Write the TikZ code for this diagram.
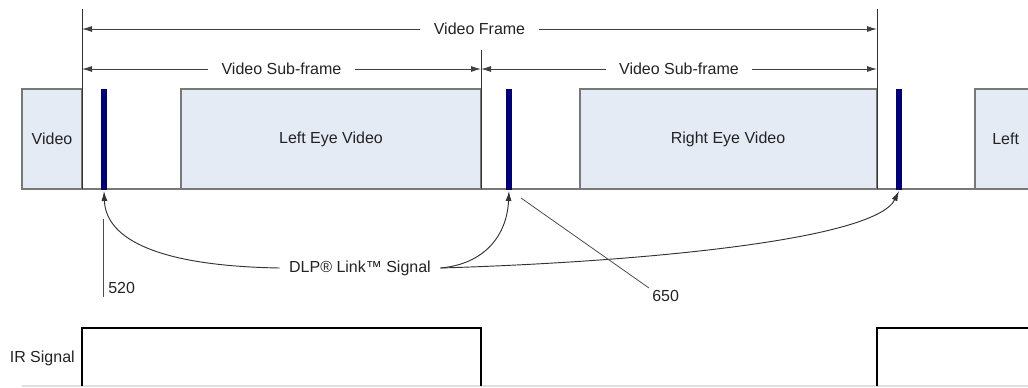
\documentclass[tikz,border=0pt]{standalone}
\usepackage{fontspec}
\setmainfont{Liberation Sans}
\usetikzlibrary{arrows.meta}
\definecolor{boxfill}{RGB}{228,235,245}
\definecolor{boxline}{RGB}{120,120,120}
\definecolor{barblue}{RGB}{0,0,120}
\definecolor{txt}{RGB}{35,35,35}
\tikzset{
  vbox/.style={draw=boxline, fill=boxfill, line width=0.9pt},
  bar/.style={draw=barblue!80!black, fill=barblue, line width=0.4pt},
  dimline/.style={draw=black!75, line width=0.7pt, -{Latex[length=7.5pt,width=4.5pt]}},
  guide/.style={draw=black!80, line width=0.7pt},
  lbl/.style={font=\fontsize{12pt}{14pt}\selectfont, text=txt, inner sep=0pt},
  dimlbl/.style={lbl, fill=white, inner xsep=10pt, inner ysep=2pt},
  callout/.style={draw=black!80, line width=0.7pt, -{Latex[length=7.5pt,width=4.5pt]}},
  leader/.style={draw=black!70, line width=0.6pt},
  irline/.style={draw=black, line width=0.9pt},
  irlow/.style={draw=black!12, line width=0.9pt}
}
\begin{document}
\begin{tikzpicture}[x=0.75pt,y=-0.75pt]
\useasboundingbox (0,0) rectangle (1028,387);
% baseline
\draw[boxline, line width=0.9pt] (22,189) -- (1028,189);
% video boxes
\draw[vbox] (22,89) rectangle (82,189);
\node[lbl] (tv) at (52,139) {Video};
\draw[vbox] (181,89) rectangle (481,189);
\node[lbl] (tl) at (331,139) {Left Eye Video};
\draw[vbox] (580,89) rectangle (877,189);
\node[lbl] (tr) at (728,139) {Right Eye Video};
\draw[vbox] (975,89) rectangle (1040,189);
\node[lbl, anchor=west] (tl2) at (992,139) {Left};
% blue bars
\draw[bar] (101.5,89) rectangle (106.5,189);
\draw[bar] (506.5,89) rectangle (511.5,189);
\draw[bar] (896.5,89) rectangle (901.5,189);
\coordinate (b1) at (104,191);
\coordinate (b2) at (509,191);
\coordinate (b3) at (899,191);
% guides
\draw[guide] (82,9) -- (82,189);
\draw[guide] (481,50) -- (481,189);
\draw[guide] (877,9) -- (877,189);
% dimension: video frame
\coordinate (f0) at (82,29);
\coordinate (f1) at (877,29);
\node[dimlbl] (vf) at (479.5,29) {Video Frame};
\draw[dimline] (vf.west) -- (f0);
\draw[dimline] (vf.east) -- (f1);
% sub-frames
\coordinate (s0) at (82,69);
\coordinate (s1) at (481,69);
\coordinate (s2) at (877,69);
\node[dimlbl] (sf1) at (281.5,69) {Video Sub-frame};
\node[dimlbl] (sf2) at (679,69) {Video Sub-frame};
\draw[dimline] (sf1.west) -- (s0);
\draw[dimline] (sf1.east) -- (s1);
\draw[dimline] (sf2.west) -- (s1);
\draw[dimline] (sf2.east) -- (s2);
% DLP Link signal
\node[lbl, inner xsep=7pt] (dlp) at (360,268) {DLP® Link™ Signal};
\draw[callout] (dlp.west) .. controls (160,266) and (106,240) .. (b1);
\draw[callout] (dlp.east) .. controls (485,264) and (507,235) .. (b2);
\draw[callout] (dlp.east) .. controls (640,262) and (875,240) .. (b3);
% reference numerals
\coordinate (r520a) at (103,219);
\coordinate (r520b) at (103,297);
\draw[leader] (r520a) -- (r520b);
\node[lbl, anchor=west] (n520) at (108,288) {520};
\coordinate (r650a) at (521,198);
\coordinate (r650b) at (649,288);
\node[lbl, anchor=north west] (n650) at (652,290) {650};
\draw[leader] (r650a) -- (r650b);
% IR signal
\node[lbl, anchor=east] (ir) at (75,358) {IR Signal};
\draw[irlow] (22,386) -- (1028,386);
\draw[irline] (82,386) -- (82,328) -- (481,328) -- (481,386);
\draw[irline] (877,386) -- (877,328) -- (1028,328);
\end{tikzpicture}
\end{document}
